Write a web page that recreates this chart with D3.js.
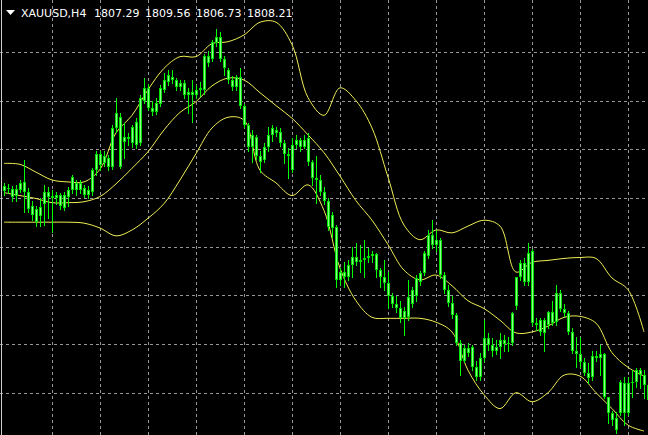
<!DOCTYPE html>
<html><head><meta charset="utf-8">
<script src="https://cdn.jsdelivr.net/npm/d3@7"></script>
<style>html,body{margin:0;padding:0;background:#000;overflow:hidden}</style>
</head><body><svg id="c" width="648" height="435"></svg>
<script>
// ---- data (XAUUSD H4, prices) ----
const symbolLabel = "XAUUSD,H4";
const lastBarValues = ["1807.29", "1809.56", "1806.73", "1808.21"];

const open = [
1830.75,1831.05,1830.95,1830.25,1830.85,1831.65,1830.65,1829.22,1828.92,1828.12,
1829.42,1830.65,1830.25,1830.05,1830.35,1829.02,1830.15,1830.85,1831.55,1830.85,
1831.05,1830.35,1830.65,1832.85,1834.55,1833.55,1834.15,1833.15,1837.18,1838.28,
1835.78,1836.28,1835.68,1835.48,1835.68,1839.98,1841.30,1839.28,1838.78,1839.68,
1841.10,1841.90,1842.40,1842.10,1841.40,1841.80,1840.60,1840.90,1840.60,1841.10,
1841.10,1844.60,1844.30,1845.93,1846.53,1844.30,1843.10,1842.10,1841.40,1842.40,
1839.48,1837.48,1835.28,1836.28,1834.35,1833.85,1835.28,1836.48,1836.98,1836.78,
1835.68,1834.55,1832.85,1835.48,1835.98,1835.28,1836.18,1833.65,1832.05,1831.85,
1830.65,1829.72,1826.92,1827.02,1821.60,1822.40,1821.90,1823.10,1823.90,1823.40,
1823.60,1823.80,1824.10,1824.30,1822.60,1821.90,1821.30,1819.90,1819.16,1818.76,
1817.66,1817.76,1819.16,1819.90,1821.40,1822.30,1824.10,1826.22,1825.22,1825.72,
1822.10,1820.60,1819.26,1817.96,1815.16,1813.33,1814.66,1814.76,1812.63,1811.63,
1813.63,1815.66,1814.96,1814.33,1814.76,1815.46,1815.06,1815.16,1818.96,1821.90,
1823.30,1821.40,1824.60,1817.16,1816.26,1817.46,1816.96,1818.26,1817.26,1820.30,
1818.66,1818.16,1816.26,1814.33,1814.03,1813.13,1812.03,1811.63,1813.83,1813.63,
1814.03,1809.63,1807.90,1807.40,1807.90,1811.03,1807.90,1811.03,1811.13,1812.33,
1811.83,1810.83];
const high = [
1831.55,1831.45,1831.25,1831.35,1831.85,1833.85,1831.05,1829.72,1829.22,1830.05,
1831.35,1831.15,1830.85,1830.65,1830.55,1830.65,1831.15,1832.35,1831.85,1831.85,
1831.35,1831.25,1833.05,1834.85,1834.85,1834.85,1834.45,1837.48,1840.30,1838.68,
1837.68,1836.68,1837.48,1838.18,1840.60,1842.30,1841.70,1839.98,1840.30,1841.60,
1842.80,1843.10,1843.10,1842.30,1842.10,1842.10,1841.30,1842.10,1841.60,1841.90,
1844.80,1845.10,1846.23,1847.33,1847.03,1844.60,1843.30,1842.50,1842.60,1843.30,
1839.68,1837.68,1836.98,1836.48,1834.85,1835.68,1837.28,1837.48,1837.28,1837.18,
1835.98,1835.18,1836.18,1836.48,1836.18,1836.48,1836.68,1833.85,1834.35,1832.35,
1831.15,1830.05,1828.52,1827.22,1822.80,1823.40,1823.60,1825.02,1825.42,1825.22,
1825.72,1824.92,1824.60,1824.40,1822.80,1823.60,1822.40,1820.30,1819.96,1819.46,
1818.86,1821.60,1820.90,1822.10,1822.50,1824.60,1826.72,1827.72,1826.72,1825.92,
1822.40,1821.10,1819.96,1818.16,1815.46,1814.96,1815.16,1814.96,1813.33,1814.13,
1817.46,1816.16,1815.66,1815.46,1816.16,1815.96,1815.76,1818.26,1821.90,1823.60,
1823.80,1825.42,1824.80,1817.66,1817.66,1817.66,1818.46,1819.46,1821.10,1820.60,
1819.16,1818.46,1816.66,1815.76,1815.76,1813.63,1813.03,1814.33,1814.33,1814.96,
1814.13,1809.63,1808.20,1808.00,1811.33,1811.63,1811.63,1812.33,1812.53,1812.53,
1812.33,1811.13];
const low = [
1830.35,1830.55,1829.72,1829.72,1830.65,1828.52,1828.52,1827.72,1827.12,1827.12,
1827.22,1827.92,1826.52,1829.42,1828.92,1828.72,1829.22,1830.55,1830.35,1830.55,
1830.15,1830.05,1830.35,1832.35,1832.85,1833.25,1832.85,1832.95,1836.78,1833.05,
1834.15,1835.48,1835.28,1835.18,1835.48,1839.78,1838.98,1838.48,1838.58,1839.48,
1840.90,1841.60,1841.80,1841.10,1841.10,1840.30,1838.68,1837.78,1840.30,1840.50,
1840.70,1843.50,1844.10,1845.63,1844.10,1842.60,1841.80,1841.10,1841.10,1839.28,
1837.28,1834.85,1833.65,1834.05,1832.65,1833.65,1834.85,1835.88,1836.38,1835.38,
1833.55,1832.05,1832.65,1835.18,1834.85,1835.18,1833.35,1831.35,1829.52,1830.35,
1829.42,1826.72,1826.02,1820.90,1821.10,1820.90,1821.60,1821.90,1823.10,1822.40,
1821.90,1823.40,1823.40,1821.90,1820.90,1820.60,1818.76,1818.86,1818.26,1817.26,
1815.96,1817.46,1818.86,1819.46,1821.10,1822.10,1823.80,1824.92,1824.60,1821.80,
1820.30,1818.96,1817.66,1814.96,1811.83,1813.13,1813.83,1812.33,1811.33,1811.33,
1813.33,1814.46,1813.83,1814.03,1813.63,1814.33,1814.33,1814.96,1818.66,1821.60,
1821.10,1821.10,1816.96,1816.46,1815.96,1814.33,1816.66,1816.96,1816.96,1818.46,
1817.86,1816.06,1814.13,1812.63,1812.63,1811.83,1811.03,1811.33,1813.33,1811.83,
1809.53,1806.90,1806.70,1805.90,1807.70,1806.70,1807.70,1809.63,1810.63,1810.53,
1809.53,1808.90];
const close = [
1831.25,1830.95,1830.15,1830.95,1831.55,1830.65,1828.92,1828.22,1827.52,1829.12,
1830.65,1830.15,1830.05,1830.35,1829.22,1830.35,1830.85,1832.15,1830.85,1831.55,
1830.35,1830.85,1832.85,1834.55,1833.35,1834.35,1833.15,1837.18,1838.68,1833.15,
1836.28,1836.08,1837.28,1837.78,1840.30,1841.30,1839.28,1838.78,1839.78,1841.30,
1842.10,1842.60,1842.10,1841.40,1841.80,1840.60,1840.90,1840.60,1841.10,1841.30,
1844.60,1843.80,1846.03,1846.53,1844.30,1843.30,1842.10,1841.40,1842.40,1839.48,
1837.48,1835.28,1836.48,1834.35,1833.65,1835.28,1836.48,1837.18,1836.68,1835.68,
1834.55,1834.35,1835.48,1835.98,1835.28,1835.98,1833.65,1832.05,1831.85,1830.65,
1829.72,1827.02,1828.22,1821.60,1822.40,1821.90,1823.10,1823.90,1823.40,1823.60,
1823.80,1824.10,1824.30,1822.60,1821.90,1821.30,1819.90,1819.16,1818.76,1817.66,
1818.46,1819.80,1820.60,1821.80,1822.30,1824.40,1826.22,1825.22,1825.72,1822.10,
1820.60,1819.26,1817.96,1815.16,1813.33,1814.66,1814.13,1812.63,1811.63,1813.63,
1815.66,1814.96,1814.33,1814.76,1815.46,1815.06,1815.16,1818.16,1821.90,1823.30,
1821.40,1824.40,1817.16,1816.96,1817.46,1816.16,1818.26,1817.16,1820.30,1818.66,
1818.16,1816.26,1814.33,1814.03,1813.13,1812.03,1811.53,1813.83,1813.63,1814.03,
1809.63,1807.90,1807.20,1806.20,1811.13,1807.90,1811.03,1811.13,1812.33,1811.83,
1810.83,1809.28];

// Bollinger bands, read every 4th bar
const bandBars = d3.range(0, 161, 4);
const bandUpper = [
1833.55,1833.45,1832.65,1831.85,1831.65,1831.65,1832.95,1836.68,1838.48,1841.10,
1843.30,1844.50,1844.50,1845.83,1846.03,1846.73,1848.03,1848.03,1845.73,1840.30,
1838.48,1841.30,1839.98,1837.18,1832.15,1827.22,1825.72,1826.72,1826.42,1827.12,
1827.72,1827.12,1822.40,1823.40,1823.60,1823.80,1823.90,1823.80,1821.80,1820.60,1816.26];
const bandMiddle = [
1830.55,1830.25,1829.95,1829.52,1829.52,1829.62,1830.15,1831.45,1833.05,1834.75,
1836.98,1838.78,1839.88,1841.50,1842.30,1842.10,1840.80,1839.48,1838.18,1836.48,
1834.65,1832.25,1829.72,1827.72,1825.22,1822.60,1821.60,1822.10,1821.00,1819.46,
1818.66,1817.46,1816.16,1816.26,1816.86,1817.76,1817.86,1817.16,1814.13,1812.63,1811.73];
const bandLower = [
1827.52,1827.52,1827.52,1827.52,1827.52,1827.42,1826.92,1826.12,1826.72,1827.92,
1829.42,1831.85,1834.55,1837.18,1838.28,1837.98,1832.85,1831.55,1830.25,1831.35,
1828.72,1822.80,1819.46,1817.76,1817.66,1817.66,1817.66,1817.26,1816.26,1812.33,
1809.83,1808.40,1810.03,1809.10,1810.03,1811.83,1811.73,1810.03,1808.40,1806.70,1806.10];

const gridPrices = [1810, 1815, 1820, 1825, 1830, 1835, 1840, 1845];
const gridBars = d3.range(12, 161, 12);

// ---- drawing ----
const W = 648, H = 435;
const svg = d3.select('#c');
svg.append('rect').attr('width', W).attr('height', H).attr('fill', '#000');

const x = d3.scaleLinear().domain([0, 161]).range([4, 648]);
const y = d3.scaleLinear().domain([1805.69, 1850.31]).range([H, 0]);

const grid = svg.append('g').attr('stroke', '#979797').attr('stroke-width', 1)
  .attr('stroke-dasharray', '3,3').attr('shape-rendering', 'crispEdges');
grid.selectAll('line.h').data(gridPrices).join('line').attr('class', 'h')
  .attr('x1', 0).attr('x2', W)
  .attr('y1', d => Math.round(y(d)) + 0.5).attr('y2', d => Math.round(y(d)) + 0.5);
grid.selectAll('line.v').data(gridBars).join('line').attr('class', 'v')
  .attr('y1', 0).attr('y2', H)
  .attr('x1', d => Math.round(x(d)) + 0.5).attr('x2', d => Math.round(x(d)) + 0.5);

// left frame edge
svg.append('line').attr('x1', 1.5).attr('x2', 1.5).attr('y1', 0).attr('y2', H)
  .attr('stroke', '#cfcfcf').attr('stroke-width', 1).attr('shape-rendering', 'crispEdges');

// bands
const bandLine = d3.line().x((d, k) => x(bandBars[k])).y(d => y(d)).curve(d3.curveCatmullRom.alpha(0.5));
const bands = svg.append('g').attr('fill', 'none').attr('stroke', '#eeee55').attr('stroke-width', 1);
[bandUpper, bandMiddle, bandLower].forEach(b => bands.append('path').attr('d', bandLine(b)));

// candles
const bars = d3.range(open.length);
const cg = svg.append('g').attr('shape-rendering', 'crispEdges');
cg.selectAll('line.w').data(bars).join('line').attr('class', 'w')
  .attr('x1', i => Math.round(x(i)) + 0.5).attr('x2', i => Math.round(x(i)) + 0.5)
  .attr('y1', i => Math.round(y(high[i]))).attr('y2', i => Math.round(y(low[i])) + 1)
  .attr('stroke', '#00ff00').attr('stroke-width', 1);
cg.selectAll('rect.b').data(bars).join('rect').attr('class', 'b')
  .attr('x', i => Math.round(x(i)) - 1).attr('width', 3)
  .attr('y', i => Math.round(y(Math.max(open[i], close[i]))))
  .attr('height', i => Math.max(1, Math.round(y(Math.min(open[i], close[i]))) - Math.round(y(Math.max(open[i], close[i])))))
  .attr('fill', '#00e000');
cg.selectAll('rect.c').data(bars).join('rect').attr('class', 'c')
  .attr('x', i => Math.round(x(i))).attr('width', 1)
  .attr('y', i => Math.round(y(Math.max(open[i], close[i]))) + 1)
  .attr('height', i => Math.max(0, Math.round(y(Math.min(open[i], close[i]))) - Math.round(y(Math.max(open[i], close[i]))) - 2))
  .attr('fill', '#8cff8c');

// title
const t = svg.append('g').attr('fill', '#fff').attr('font-family', 'DejaVu Sans, sans-serif').attr('font-size', 11);
t.append('path').attr('d', 'M6,10 L15,10 L10.5,15 Z');
t.append('text').attr('x', 21).attr('y', 17).text(symbolLabel);
const numX = [94, 145, 196, 247];
lastBarValues.forEach((v, k) => t.append('text').attr('x', numX[k]).attr('y', 17).text(v));
</script></body></html>
